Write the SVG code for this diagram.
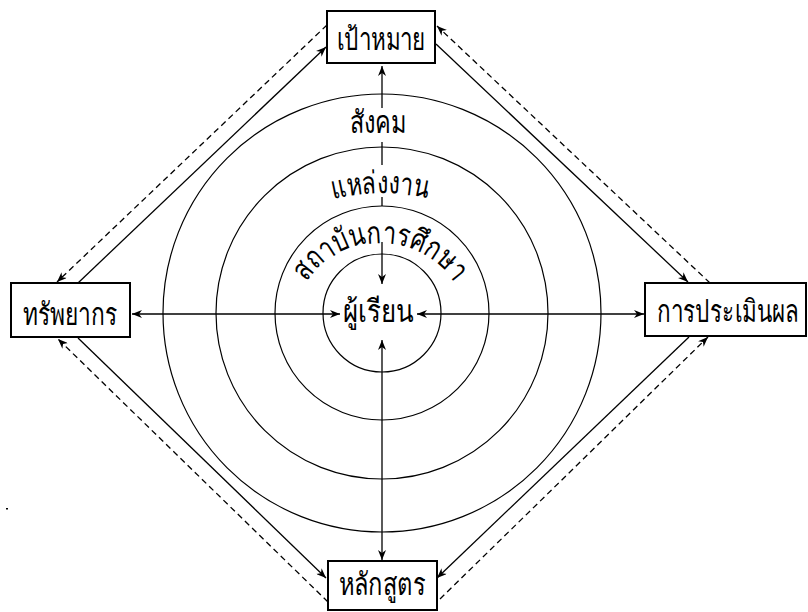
<svg xmlns="http://www.w3.org/2000/svg" width="808" height="612" viewBox="0 0 808 612">
  <style>
    .box { fill: #fff; stroke: #000; stroke-width: 2; }
    .ring { fill: none; stroke: #000; stroke-width: 1.2; }
    .lbl { font-family: "Noto Sans", "DejaVu Sans", sans-serif; font-size: 31px; fill: #000; text-anchor: middle; }
    .ln { fill: none; stroke: #000; stroke-width: 1.3; }
    .dash { stroke-dasharray: 6 4; }
  </style>
  <defs>
    <marker id="ah" viewBox="0 0 10 8" refX="10" refY="4" markerWidth="10" markerHeight="8" markerUnits="userSpaceOnUse" orient="auto-start-reverse">
      <path d="M0,0 L10,4 L0,8 L3,4 z" fill="#000"/>
    </marker>
    <path id="arcInner" d="M290,333 A90,90 0 0 1 470,333"/>
    <path id="arcMid" d="M180,393 A200,200 0 0 1 580,393"/>
  </defs>
  <rect width="808" height="612" fill="#fff"/>

  <g id="rings">
    <circle class="ring" cx="382" cy="313" r="219"/>
    <circle class="ring" cx="382" cy="313" r="166"/>
    <circle class="ring" cx="382" cy="313" r="107"/>
    <circle class="ring" cx="382" cy="313" r="59"/>
  </g>

  <g id="connectors">
    <path class="ln" d="M132,314 L340,314" marker-start="url(#ah)" marker-end="url(#ah)"/>
    <path class="ln" d="M417,314 L644,314" marker-start="url(#ah)" marker-end="url(#ah)"/>
    <path class="ln" d="M382,340 L382,560" marker-start="url(#ah)" marker-end="url(#ah)"/>
    <path class="ln" d="M382,66 L382,108" marker-start="url(#ah)"/>
    <path class="ln" d="M382,142 L382,165"/>
    <path class="ln" d="M382,197 L382,206"/>
    <path class="ln" d="M382,242 L382,284" marker-end="url(#ah)"/>

    <path class="ln" d="M78,283 L326,47" marker-end="url(#ah)"/>
    <path class="ln dash" d="M327,25 L57,282" marker-end="url(#ah)"/>
    <path class="ln" d="M436,44 L688,282" marker-end="url(#ah)"/>
    <path class="ln dash" d="M710,283 L437,26" marker-end="url(#ah)"/>
    <path class="ln" d="M689,337 L437,578" marker-end="url(#ah)"/>
    <path class="ln dash" d="M440,599 L708,337" marker-end="url(#ah)"/>
    <path class="ln" d="M78,338 L326,578" marker-end="url(#ah)"/>
    <path class="ln dash" d="M328,602 L58,339" marker-end="url(#ah)"/>
  </g>

  <g id="node-goal">
    <rect class="box" x="327" y="11" width="108" height="52"/>
    <text class="lbl" x="381" y="50" textLength="89" lengthAdjust="spacingAndGlyphs">เป้าหมาย</text>
  </g>
  <g id="node-resources">
    <rect class="box" x="11" y="283" width="119" height="54"/>
    <text class="lbl" x="70" y="325" textLength="94" lengthAdjust="spacingAndGlyphs">ทรัพยากร</text>
  </g>
  <g id="node-evaluation">
    <rect class="box" x="645" y="283" width="161" height="53"/>
    <text class="lbl" x="799" y="322" style="text-anchor:end" textLength="142" lengthAdjust="spacingAndGlyphs">การประเมินผล</text>
  </g>
  <g id="node-curriculum">
    <rect class="box" x="328" y="561" width="109" height="49"/>
    <text class="lbl" x="382" y="595" textLength="87" lengthAdjust="spacingAndGlyphs">หลักสูตร</text>
  </g>
  <g id="node-learner">
    <text class="lbl" x="378" y="322" textLength="71" lengthAdjust="spacingAndGlyphs">ผู้เรียน</text>
  </g>
  <g id="node-society">
    <text class="lbl" x="378" y="133" textLength="57" lengthAdjust="spacingAndGlyphs">สังคม</text>
  </g>
  <g id="node-workplace">
    <text class="lbl"><textPath href="#arcMid" startOffset="50%" textLength="95" lengthAdjust="spacingAndGlyphs">แหล่งงาน</textPath></text>
  </g>
  <g id="node-institution">
    <text class="lbl"><textPath href="#arcInner" startOffset="50%" textLength="174" lengthAdjust="spacingAndGlyphs">สถาบันการศึกษา</textPath></text>
  </g>
  <rect x="6" y="508" width="2" height="1.5" fill="#000"/>
</svg>
